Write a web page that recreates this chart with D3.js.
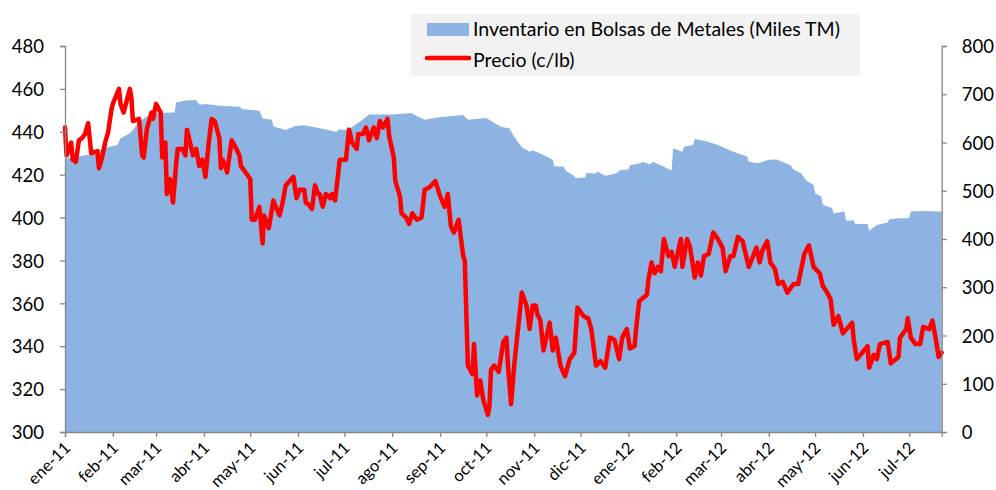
<!DOCTYPE html>
<html>
<head>
<meta charset="utf-8">
<script src="https://cdn.jsdelivr.net/npm/d3@7"></script>
<style>
  body { margin: 0; background: #fff; }
  svg text { font-family: Lato, "Open Sans", sans-serif; fill: #000; }
</style>
</head>
<body>
<div id="chart"></div>
<script>
'use strict';

var monthNames = ['ene','feb','mar','abr','may','jun','jul','ago','sep','oct','nov','dic'];
var leftTicks = [300, 320, 340, 360, 380, 400, 420, 440, 460, 480];
var rightTicks = [0, 100, 200, 300, 400, 500, 600, 700, 800];
var seriesNames = ['Inventario en Bolsas de Metales (Miles TM)', 'Precio (c/lb)'];

// precio cobre, c/lb (eje izquierdo)
var priceDates = [
  '2011-01-01','2011-01-02','2011-01-05','2011-01-06','2011-01-08','2011-01-10','2011-01-12','2011-01-14','2011-01-16','2011-01-18','2011-01-22','2011-01-23','2011-01-25','2011-01-27','2011-01-29','2011-01-31',
  '2011-02-01','2011-02-05','2011-02-06','2011-02-08','2011-02-12','2011-02-13','2011-02-14','2011-02-18','2011-02-20','2011-02-21','2011-02-23','2011-02-26','2011-02-27',
  '2011-03-01','2011-03-04','2011-03-05','2011-03-07','2011-03-08','2011-03-10','2011-03-12','2011-03-14','2011-03-15','2011-03-18','2011-03-20','2011-03-21','2011-03-25','2011-03-27','2011-03-29','2011-03-31',
  '2011-04-02','2011-04-04','2011-04-06','2011-04-08','2011-04-11','2011-04-12','2011-04-13','2011-04-15','2011-04-16','2011-04-19','2011-04-22','2011-04-24','2011-04-25','2011-04-27',
  '2011-05-01','2011-05-02','2011-05-04','2011-05-07','2011-05-09','2011-05-10','2011-05-13','2011-05-16','2011-05-17','2011-05-20','2011-05-22','2011-05-24','2011-05-29','2011-05-31',
  '2011-06-02','2011-06-05','2011-06-06','2011-06-08','2011-06-10','2011-06-12','2011-06-14','2011-06-15','2011-06-17','2011-06-19','2011-06-22','2011-06-23','2011-06-25','2011-06-28',
  '2011-07-02','2011-07-04','2011-07-06','2011-07-09','2011-07-10','2011-07-13','2011-07-15','2011-07-17','2011-07-20','2011-07-22','2011-07-24','2011-07-26','2011-07-29','2011-07-30',
  '2011-08-02','2011-08-03','2011-08-06','2011-08-07','2011-08-10','2011-08-12','2011-08-14','2011-08-17','2011-08-20','2011-08-22','2011-08-25','2011-08-29',
  '2011-09-01','2011-09-04','2011-09-06','2011-09-08','2011-09-10','2011-09-13','2011-09-16','2011-09-17','2011-09-19','2011-09-22','2011-09-23','2011-09-25','2011-09-27','2011-09-29',
  '2011-10-02','2011-10-03','2011-10-04','2011-10-06','2011-10-09','2011-10-12','2011-10-14','2011-10-15','2011-10-17','2011-10-19','2011-10-24','2011-10-27','2011-10-29','2011-10-31',
  '2011-11-02','2011-11-03','2011-11-05','2011-11-07','2011-11-11','2011-11-13','2011-11-15','2011-11-18','2011-11-21','2011-11-24','2011-11-27','2011-11-29',
  '2011-12-03','2011-12-06','2011-12-08','2011-12-11','2011-12-14','2011-12-17','2011-12-20','2011-12-23','2011-12-26','2011-12-28','2011-12-31',
  '2012-01-02','2012-01-05','2012-01-06','2012-01-08','2012-01-13','2012-01-14','2012-01-16','2012-01-18','2012-01-20','2012-01-22','2012-01-24','2012-01-27','2012-01-29','2012-01-31',
  '2012-02-04','2012-02-05','2012-02-08','2012-02-10','2012-02-13','2012-02-15','2012-02-17','2012-02-19','2012-02-22','2012-02-25','2012-02-28',
  '2012-03-02','2012-03-04','2012-03-07','2012-03-09','2012-03-12','2012-03-15','2012-03-19','2012-03-24','2012-03-26','2012-03-28','2012-03-31',
  '2012-04-02','2012-04-05','2012-04-07','2012-04-10','2012-04-13','2012-04-17','2012-04-20','2012-04-24','2012-04-27','2012-04-30',
  '2012-05-04','2012-05-06','2012-05-08','2012-05-11','2012-05-13','2012-05-16','2012-05-19','2012-05-25','2012-05-26','2012-05-28',
  '2012-06-04','2012-06-05','2012-06-08','2012-06-10','2012-06-12','2012-06-17','2012-06-19','2012-06-24','2012-06-25','2012-06-29','2012-06-30',
  '2012-07-02','2012-07-05','2012-07-08','2012-07-10','2012-07-14','2012-07-16','2012-07-18','2012-07-20','2012-07-22'
];
var priceValues = [
  442,429,435,427,426,436,437,439,444,430,431,423,428,435,440,450,
  453,460,453,449,460,456,445,446,429,428,441,449,446,
  453,449,428,435,411,418,407,425,432,432,429,441,429,432,424,427,
  419,434,446,445,437,423,427,424,421,436,432,429,424,422,
  418,399,399,405,388,401,395,408,406,401,407,415,419,409,
  413,413,407,406,404,415,411,411,405,411,409,411,408,427,
  427,441,435,432,439,439,442,436,442,437,445,442,446,438,
  428,417,410,402,400,397,402,399,400,413,414,417,
  410,405,411,396,393,399,382,380,331,327,341,317,324,315,
  308,312,329,331,328,342,344,331,313,331,365,359,348,359,
  359,355,352,338,351,338,344,331,326,334,337,358,
  354,353,348,331,333,330,344,343,334,344,348,
  339,340,348,361,364,371,379,374,377,375,390,382,384,377,
  390,377,390,386,372,379,373,382,383,393,390,
  386,375,382,382,391,389,377,386,379,385,389,
  379,376,369,370,365,369,369,383,387,377,
  374,368,366,362,350,354,346,351,343,334,
  340,330,336,334,341,342,332,335,344,348,353,
  344,341,341,349,348,352,344,335,337
];

// inventario en bolsas, miles TM (eje derecho)
var invDates = [
  '2011-01-01','2011-01-11','2011-01-19','2011-01-26','2011-01-30','2011-02-04','2011-02-06','2011-02-12','2011-02-14','2011-02-18','2011-02-23',
  '2011-03-01','2011-03-13','2011-03-14','2011-03-20','2011-03-27','2011-03-29','2011-04-02','2011-04-11','2011-04-24','2011-04-26',
  '2011-05-07','2011-05-09','2011-05-15','2011-05-16','2011-05-24','2011-05-30','2011-06-05','2011-06-19','2011-06-26','2011-06-27',
  '2011-07-03','2011-07-11','2011-07-17','2011-08-01','2011-08-13','2011-08-22','2011-08-30','2011-09-16','2011-09-19',
  '2011-10-01','2011-10-05','2011-10-10','2011-10-16','2011-10-19','2011-10-24','2011-10-29','2011-10-31',
  '2011-11-07','2011-11-13','2011-11-14','2011-11-20','2011-11-22','2011-11-26','2011-11-28',
  '2011-12-04','2011-12-05','2011-12-11','2011-12-12','2011-12-17','2011-12-24','2011-12-27',
  '2012-01-01','2012-01-02','2012-01-09','2012-01-10','2012-01-15','2012-01-17','2012-01-24','2012-01-29','2012-01-30',
  '2012-02-05','2012-02-06','2012-02-12','2012-02-13','2012-02-21','2012-02-28',
  '2012-03-09','2012-03-18','2012-03-19','2012-03-25','2012-04-01','2012-04-06','2012-04-15','2012-04-17','2012-04-22','2012-04-25','2012-04-30',
  '2012-05-01','2012-05-05','2012-05-06','2012-05-12','2012-05-13','2012-05-20','2012-05-21','2012-05-26','2012-05-27',
  '2012-06-04','2012-06-05','2012-06-10','2012-06-17','2012-06-18','2012-06-24','2012-07-01','2012-07-02','2012-07-09','2012-07-22'
];
var invValues = [
  567,572,576,588,591,595,609,619,626,643,654,
  661,662,683,687,688,678,680,676,674,669,
  666,650,647,633,626,634,636,627,622,627,
  626,643,658,658,661,647,652,657,647,
  651,643,633,629,612,590,581,584,
  574,564,551,550,540,533,526,
  528,537,536,540,531,536,543,
  544,553,557,560,555,560,550,542,588,
  581,591,595,607,602,595,
  581,571,560,557,564,565,553,544,536,522,512,
  495,488,471,464,453,457,438,439,431,
  431,417,429,434,441,443,443,457,458,457
];

var parseDate = d3.timeParse('%Y-%m-%d');
var price = priceDates.map(function(d, i) { return {date: parseDate(d), value: priceValues[i]}; });
var inventory = invDates.map(function(d, i) { return {date: parseDate(d), value: invValues[i]}; });

var width = 996, height = 490;
var plot = {left: 65, right: 941.7, top: 46, bottom: 432};

var svg = d3.select('#chart').append('svg')
  .attr('width', width)
  .attr('height', height);

var x = d3.scaleTime()
  .domain([parseDate('2011-01-01'), parseDate('2012-07-22')])
  .range([plot.left, plot.right]);
var yLeft = d3.scaleLinear().domain([300, 480]).range([plot.bottom, plot.top]);
var yRight = d3.scaleLinear().domain([0, 800]).range([plot.bottom, plot.top]);

// area de inventario
var area = d3.area()
  .x(function(d) { return x(d.date); })
  .y0(yRight(0))
  .y1(function(d) { return yRight(d.value); });

svg.append('path')
  .datum(inventory)
  .attr('d', area)
  .attr('fill', '#8db3e2');

// linea de precio
var line = d3.line()
  .x(function(d) { return x(d.date); })
  .y(function(d) { return yLeft(d.value); });

svg.append('path')
  .datum(price)
  .attr('d', line)
  .attr('fill', 'none')
  .attr('stroke', '#ff0000')
  .attr('stroke-width', 4.5)
  .attr('stroke-linejoin', 'round')
  .attr('stroke-linecap', 'round');

// ejes
var axisColor = '#868686';

var leftAxis = svg.append('g')
  .attr('transform', 'translate(' + plot.left + ',0)')
  .call(d3.axisLeft(yLeft).tickValues(leftTicks).tickSize(5).tickPadding(16));

var rightAxis = svg.append('g')
  .attr('transform', 'translate(' + plot.right + ',0)')
  .call(d3.axisRight(yRight).tickValues(rightTicks).tickSize(5).tickPadding(15));

var months = d3.timeMonth.range(parseDate('2011-01-01'), parseDate('2012-07-02'));
var bottomAxis = svg.append('g')
  .attr('transform', 'translate(0,' + plot.bottom + ')')
  .call(d3.axisBottom(x).tickValues(months).tickSize(5)
    .tickFormat(function(d) {
      return monthNames[d.getMonth()] + '-' + String(d.getFullYear()).slice(2);
    }));

[leftAxis, rightAxis, bottomAxis].forEach(function(g) {
  g.select('.domain').attr('stroke', axisColor).attr('stroke-width', 1.3);
  g.selectAll('.tick line').attr('stroke', axisColor).attr('stroke-width', 1.3);
  g.selectAll('.tick text').style('font-size', '18.5px');
});
leftAxis.selectAll('.tick text').attr('dy', '0.36em');
rightAxis.selectAll('.tick text').attr('dy', '0.36em');

bottomAxis.selectAll('.tick text')
  .style('font-size', '16.5px')
  .attr('text-anchor', 'end')
  .attr('dy', null)
  .attr('y', null)
  .attr('transform', 'translate(6,17) rotate(-45)');

// leyenda
var legend = svg.append('g').attr('transform', 'translate(411,14)');
legend.append('rect')
  .attr('width', 449).attr('height', 62)
  .attr('fill', '#f2f2f2');
legend.append('rect')
  .attr('x', 16).attr('y', 9).attr('width', 42).attr('height', 13)
  .attr('fill', '#8db3e2');
legend.append('line')
  .attr('x1', 16).attr('x2', 58).attr('y1', 44).attr('y2', 44)
  .attr('stroke', '#ff0000').attr('stroke-width', 4.5).attr('stroke-linecap', 'round');
legend.selectAll('text.lbl')
  .data(seriesNames)
  .enter().append('text')
  .attr('class', 'lbl')
  .attr('x', 62)
  .attr('y', function(d, i) { return 22 + i * 31; })
  .style('font-size', '19.5px')
  .text(function(d) { return d; });
</script>
</body>
</html>
